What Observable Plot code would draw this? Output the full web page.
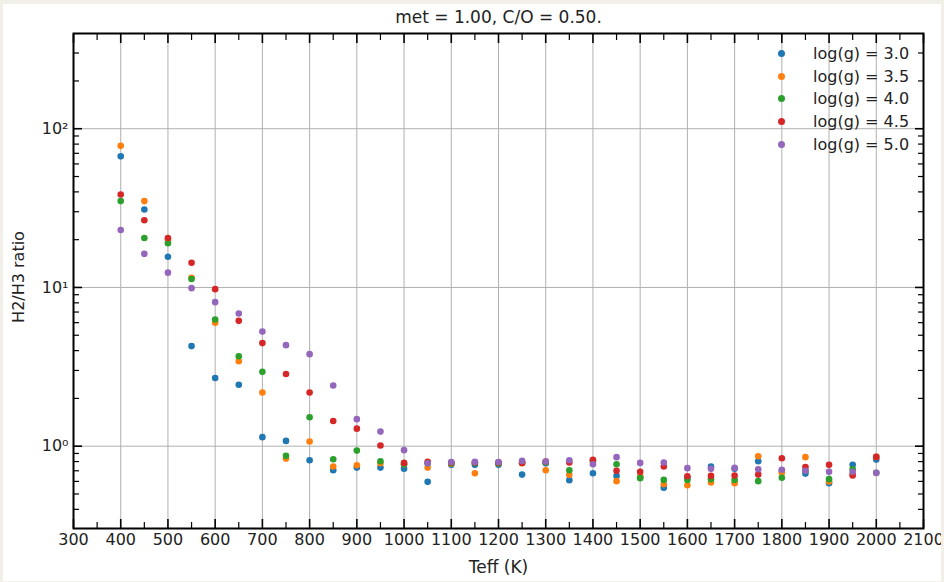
<!DOCTYPE html>
<html><head><meta charset="utf-8">
<script src="https://cdn.jsdelivr.net/npm/d3@7"></script>
<script src="https://cdn.jsdelivr.net/npm/@observablehq/plot@0.6"></script>
<style>
body{margin:0;background:#f1efe7;}
#wrap{position:relative;width:944px;height:582px;font-family:"DejaVu Sans";}
#chart svg{display:block;background:#fff;clip-path:inset(4px 3px 1px 3px);}
.row{position:absolute;left:778px;height:22px;line-height:22px;font-size:16px;color:#222;white-space:nowrap;}
.row i{display:inline-block;width:7px;height:7px;border-radius:50%;margin-right:28px;vertical-align:middle;position:relative;top:-1px;}
</style></head>
<body><div id="wrap"><div id="chart"></div><div id="legend"></div></div>
<script>
const title = "met = 1.00, C/O = 0.50.";
const xLabel = "Teff (K)";
const yLabel = "H2/H3 ratio";
const teff = [400,450,500,550,600,650,700,750,800,850,900,950,1000,1050,1100,1150,1200,1250,1300,1350,1400,1450,1500,1550,1600,1650,1700,1750,1800,1850,1900,1950,2000];
const seriesNames = ["log(g) = 3.0","log(g) = 3.5","log(g) = 4.0","log(g) = 4.5","log(g) = 5.0"];
const seriesColors = ["#1f77b4","#ff7f0e","#2ca02c","#d62728","#9467bd"];
const g30 = [67,31,15.6,4.27,2.69,2.44,1.14,1.08,0.816,0.706,0.733,0.733,0.722,0.596,0.765,0.763,0.765,0.662,0.78,0.611,0.676,0.65,0.64,0.548,0.632,0.744,0.72,0.804,0.70,0.672,0.585,0.763,0.823];
const g35 = [78,35,20,11.5,6.0,3.43,2.18,0.835,1.07,0.744,0.759,0.78,0.77,0.733,0.775,0.676,0.78,0.78,0.706,0.66,0.80,0.602,0.645,0.576,0.568,0.59,0.585,0.865,0.68,0.853,0.60,0.67,0.856];
const g40 = [35,20.5,19,11.3,6.28,3.69,2.94,0.869,1.52,0.828,0.938,0.804,0.77,0.78,0.78,0.785,0.78,0.79,0.79,0.706,0.81,0.77,0.629,0.613,0.613,0.62,0.613,0.602,0.632,0.70,0.62,0.716,0.68];
const g45 = [38.5,26.5,20.5,14.3,9.76,6.16,4.46,2.85,2.18,1.44,1.29,1.01,0.785,0.796,0.79,0.79,0.79,0.785,0.80,0.79,0.82,0.699,0.689,0.744,0.647,0.65,0.653,0.662,0.84,0.74,0.763,0.653,0.856];
const g50 = [23,16.3,12.4,9.9,8.08,6.85,5.27,4.33,3.80,2.41,1.48,1.236,0.944,0.78,0.795,0.796,0.795,0.808,0.80,0.816,0.77,0.853,0.785,0.79,0.727,0.72,0.73,0.716,0.71,0.699,0.689,0.69,0.679];
const seriesValues = [g30,g35,g40,g45,g50];
const majorX = d3.range(300, 2101, 100);
const minorX = d3.range(350, 2100, 100);
const majorY = [1, 10, 100];
const minorY = [0.4,0.5,0.6,0.7,0.8,0.9,2,3,4,5,6,7,8,9,20,30,40,50,60,70,80,90,200,300];
const sup = {"0":"\u2070","1":"\u00b9","2":"\u00b2"};

const rows = [];
seriesNames.forEach((name, i) => teff.forEach((t, j) => rows.push({t, v: seriesValues[i][j], g: name})));

const tickOpts = {tickFormat: () => "", label: null, stroke: "#000"};
const chart = Plot.plot({
  width: 944, height: 582,
  marginLeft: 73, marginRight: 21, marginTop: 33, marginBottom: 54,
  style: {fontFamily: "DejaVu Sans", fontSize: "16px", color: "#222", background: "#fff"},
  x: {type: "linear", domain: [300, 2100]},
  y: {type: "log", domain: [0.303, 398]},
  color: {domain: seriesNames, range: seriesColors},
  marks: [
    Plot.gridX(majorX, {stroke: "#b0b0b0", strokeOpacity: 1, strokeWidth: 1}),
    Plot.gridY(majorY, {stroke: "#b0b0b0", strokeOpacity: 1, strokeWidth: 1}),
    Plot.dot(rows, {x: "t", y: "v", fill: "g", r: 3.3}),
    Plot.axisX(majorX, {anchor: "bottom", tickSize: 9, dy: -9, strokeWidth: 1.6, ...tickOpts}),
    Plot.axisX(minorX, {anchor: "bottom", tickSize: 6, dy: -6, strokeWidth: 1.2, ...tickOpts}),
    Plot.axisX(majorX, {anchor: "top", tickSize: 9, dy: 9, strokeWidth: 1.6, ...tickOpts}),
    Plot.axisX(minorX, {anchor: "top", tickSize: 6, dy: 6, strokeWidth: 1.2, ...tickOpts}),
    Plot.axisY(majorY, {anchor: "left", tickSize: 9, dx: 9, strokeWidth: 1.6, ...tickOpts}),
    Plot.axisY(minorY, {anchor: "left", tickSize: 6, dx: 6, strokeWidth: 1.2, ...tickOpts}),
    Plot.axisY(majorY, {anchor: "right", tickSize: 9, dx: -9, strokeWidth: 1.6, ...tickOpts}),
    Plot.axisY(minorY, {anchor: "right", tickSize: 6, dx: -6, strokeWidth: 1.2, ...tickOpts}),
    Plot.axisX(majorX, {anchor: "bottom", tickSize: 0, tickPadding: 5, tickFormat: d => String(d), label: null, fontSize: 16, fill: "#222"}),
    Plot.axisY(majorY, {anchor: "left", tickSize: 0, tickPadding: 5, tickFormat: d => "10" + sup[String(Math.round(Math.log10(d)))], label: null, fontSize: 16, fill: "#222"}),
    Plot.frame({stroke: "#000", strokeWidth: 2}),
    Plot.text([title], {frameAnchor: "top", dy: -16, text: d => d, fontSize: 17, fill: "#222", lineAnchor: "middle", textAnchor: "middle"}),
    Plot.text([xLabel], {frameAnchor: "bottom", dy: 39, text: d => d, fontSize: 17, fill: "#222", lineAnchor: "middle", textAnchor: "middle"}),
    Plot.text([yLabel], {frameAnchor: "left", dx: -55, dy: -4, rotate: -90, text: d => d, fontSize: 16, fill: "#222", lineAnchor: "middle", textAnchor: "middle"})
  ]
});
document.getElementById("chart").appendChild(chart);

const legend = document.getElementById("legend");
seriesNames.forEach((name, i) => {
  const row = document.createElement("div");
  row.className = "row";
  row.style.top = (43 + i * 22.7) + "px";
  row.innerHTML = `<i style="background:${seriesColors[i]}"></i>${name}`;
  legend.appendChild(row);
});
</script>
</body></html>
